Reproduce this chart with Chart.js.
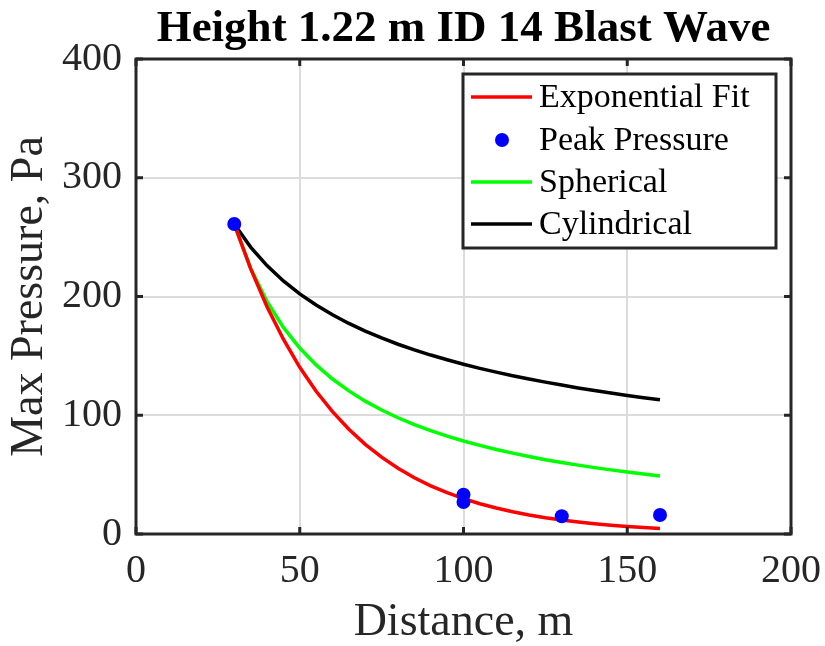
<!DOCTYPE html>
<html>
<head>
<meta charset="utf-8">
<script src="https://cdn.jsdelivr.net/npm/chart.js@4.4.0/dist/chart.umd.min.js"></script>
<style>
html, body { margin: 0; padding: 0; background: #ffffff; }
#wrap { width: 825px; height: 646px; }
</style>
</head>
<body>
<div id="wrap"><canvas id="c" width="825" height="646"></canvas></div>
<script>
// ---- Text ----
const chartTitle = 'Height 1.22 m ID 14 Blast Wave';
const xAxisTitle = 'Distance, m';
const yAxisTitle = 'Max Pressure, Pa';
const seriesNames = ['Exponential Fit', 'Peak Pressure', 'Spherical', 'Cylindrical'];

// ---- Tick labels ----
const xTicks = [0, 50, 100, 150, 200];
const yTicks = [0, 100, 200, 300, 400];

// ---- Curves ----
const curveDistance = [30, 35, 40, 45, 50, 55, 60, 65, 70, 75, 80, 85, 90, 95, 100,
  105, 110, 115, 120, 125, 130, 135, 140, 145, 150, 155, 160];
const exponentialFit = [261, 223.5, 191.4, 164.0, 140.4, 120.2, 103.0, 88.2, 75.5, 64.7, 55.4,
  47.4, 40.6, 34.8, 29.8, 25.5, 21.9, 18.7, 16.0, 13.7, 11.8, 10.1, 8.6, 7.4, 6.3, 5.4, 4.6];
const sphericalDecay = [261, 223.7, 195.8, 174.0, 156.6, 142.4, 130.5, 120.5, 111.9, 104.4, 97.9,
  92.1, 87.0, 82.4, 78.3, 74.6, 71.2, 68.1, 65.3, 62.6, 60.2, 58.0, 55.9, 54.0, 52.2, 50.5, 48.9];
const cylindricalDecay = [261, 241.6, 226.0, 213.1, 202.2, 192.8, 184.6, 177.3, 170.9, 165.1, 159.8,
  155.1, 150.7, 146.7, 143.0, 139.5, 136.3, 133.3, 130.5, 127.9, 125.4, 123.0, 120.8, 118.7, 116.7, 114.8, 113.0];

// ---- Measured peaks ----
const peakDistance = [30, 100, 100, 130, 160];
const peakPressure = [261, 33, 27, 15, 16];

const FONT = "'Liberation Serif', 'Times New Roman', Times, serif";
const AXIS_COLOR = '#262626';

function pts(xs, ys) { return xs.map((x, i) => ({ x: x, y: ys[i] })); }

const frameAndLegend = {
  id: 'frameAndLegend',
  afterDraw(chart) {
    const ctx = chart.ctx;
    const a = chart.chartArea;
    const xs = chart.scales.x, ys = chart.scales.y;
    ctx.save();
    // inward ticks
    ctx.strokeStyle = AXIS_COLOR;
    ctx.lineWidth = 3;
    const tl = 7;
    ctx.beginPath();
    xTicks.forEach(v => {
      const px = xs.getPixelForValue(v);
      ctx.moveTo(px, a.bottom); ctx.lineTo(px, a.bottom - tl);
      ctx.moveTo(px, a.top); ctx.lineTo(px, a.top + tl);
    });
    yTicks.forEach(v => {
      const py = ys.getPixelForValue(v);
      ctx.moveTo(a.left, py); ctx.lineTo(a.left + tl, py);
      ctx.moveTo(a.right, py); ctx.lineTo(a.right - tl, py);
    });
    ctx.stroke();
    // box
    ctx.strokeRect(a.left, a.top, a.right - a.left, a.bottom - a.top);

    // legend
    const W = 313, H = 174;
    const L = a.right - 15 - W, T = a.top + 15;
    ctx.fillStyle = '#ffffff';
    ctx.fillRect(L, T, W, H);
    ctx.lineWidth = 3;
    ctx.strokeStyle = AXIS_COLOR;
    ctx.strokeRect(L, T, W, H);
    const rows = [23, 66, 108, 150];
    const ds = chart.data.datasets;
    ctx.font = '34px ' + FONT;
    ctx.textBaseline = 'middle';
    ctx.textAlign = 'left';
    seriesNames.forEach((name, i) => {
      const d = ds.find(s => s.label === name);
      const y = T + rows[i];
      if (d.showLine) {
        ctx.strokeStyle = d.borderColor;
        ctx.lineWidth = 3.5;
        ctx.beginPath();
        ctx.moveTo(L + 8, y); ctx.lineTo(L + 69, y);
        ctx.stroke();
      } else {
        ctx.fillStyle = d.backgroundColor;
        ctx.beginPath();
        ctx.arc(L + 39, y, 7, 0, Math.PI * 2);
        ctx.fill();
      }
      ctx.fillStyle = '#000000';
      ctx.fillText(name, L + 76, y + 1);
    });
    ctx.restore();
  }
};

new Chart(document.getElementById('c'), {
  type: 'scatter',
  data: {
    datasets: [
      { label: seriesNames[1], data: pts(peakDistance, peakPressure), showLine: false,
        pointRadius: 7, pointHoverRadius: 7, backgroundColor: '#0000ff', borderColor: '#0000ff', borderWidth: 0, order: 0 },
      { label: seriesNames[0], data: pts(curveDistance, exponentialFit), showLine: true,
        borderColor: '#ff0000', borderWidth: 3.5, pointRadius: 0, tension: 0, order: 1 },
      { label: seriesNames[2], data: pts(curveDistance, sphericalDecay), showLine: true,
        borderColor: '#00ff00', borderWidth: 3.5, pointRadius: 0, tension: 0, order: 2 },
      { label: seriesNames[3], data: pts(curveDistance, cylindricalDecay), showLine: true,
        borderColor: '#000000', borderWidth: 3.5, pointRadius: 0, tension: 0, order: 3 }
    ]
  },
  options: {
    responsive: false,
    animation: false,
    devicePixelRatio: 1,
    layout: { padding: { left: 0, right: 34, top: 0, bottom: 0 } },
    plugins: {
      legend: { display: false },
      tooltip: { enabled: false },
      title: {
        display: true, text: chartTitle, fullSize: false,
        color: '#000000',
        font: { family: FONT, size: 45, weight: 'bold', lineHeight: 1.2 },
        padding: { top: 2, bottom: 3 }
      }
    },
    scales: {
      x: {
        type: 'linear', min: 0, max: 200,
        afterBuildTicks: s => { s.ticks = xTicks.map(v => ({ value: v })); },
        afterFit: s => { s.height = 112; s.paddingLeft = 0; s.paddingRight = 0; },
        ticks: { color: '#262626', font: { family: FONT, size: 40 }, padding: 13, maxRotation: 0, autoSkip: false },
        grid: { color: '#dcdcdc', lineWidth: 2, drawTicks: false },
        border: { display: false },
        title: { display: true, text: xAxisTitle, color: '#262626',
          font: { family: FONT, size: 46, lineHeight: 1.0 }, padding: { top: 0, bottom: 0 } }
      },
      y: {
        type: 'linear', min: 0, max: 400,
        afterBuildTicks: s => { s.ticks = yTicks.map(v => ({ value: v })); },
        afterFit: s => { s.width = 136; s.paddingTop = 0; s.paddingBottom = 0; },
        ticks: { color: '#262626', font: { family: FONT, size: 40 }, padding: 14, autoSkip: false },
        grid: { color: '#dcdcdc', lineWidth: 2, drawTicks: false },
        border: { display: false },
        title: { display: true, text: yAxisTitle, color: '#262626',
          font: { family: FONT, size: 46, lineHeight: 1.2 }, padding: { top: 2, bottom: 0 } }
      }
    }
  },
  plugins: [frameAndLegend]
});
</script>
</body>
</html>
